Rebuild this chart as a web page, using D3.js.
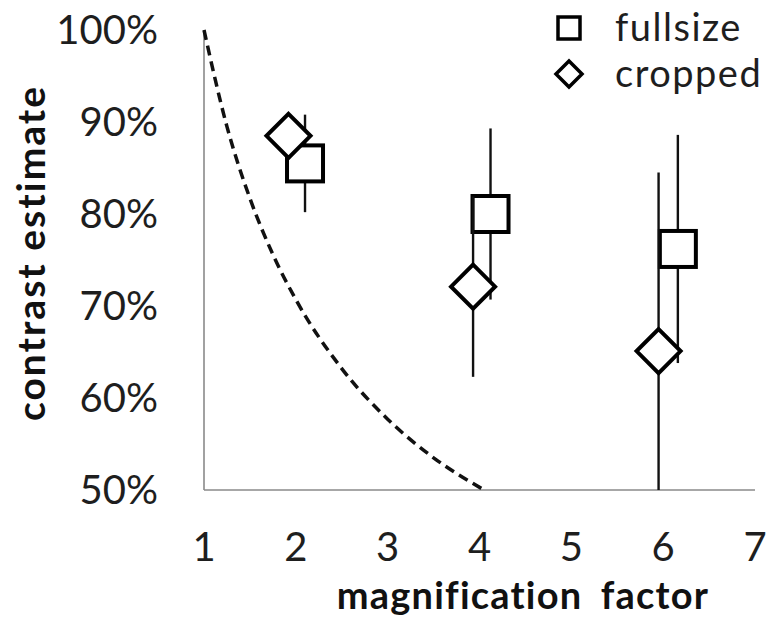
<!DOCTYPE html>
<html>
<head>
<meta charset="utf-8">
<script src="https://cdn.jsdelivr.net/npm/d3@7"></script>
<style>
  body { margin: 0; background: #fff; }
  svg { display: block; }
  .tick-label { font-family: Lato, sans-serif; font-size: 40px; fill: #1e1e1e; }
  .axis-title { font-family: Lato, sans-serif; font-size: 38px; font-weight: bold; fill: #111; }
  .legend-text { font-family: Lato, sans-serif; font-size: 38px; letter-spacing: 1.5px; fill: #1e1e1e; }
</style>
</head>
<body>
<script>
// values (contrast in %)
var xTicks = [1, 2, 3, 4, 5, 6, 7];
var yTicks = [50, 60, 70, 80, 90, 100];

var fullsizeX = [2.1, 4.12, 6.16];
var fullsizeY = [85.5, 80, 76.2];
var fullsizeErr = [5.3, 9.3, 12.4];

var croppedX = [1.92, 3.93, 5.95];
var croppedY = [88.5, 72.1, 65.1];
var croppedErr = [2, 9.8, 19.4];

// dashed reference curve
var curveX = [1, 1.25, 1.5, 1.75, 2, 2.5, 3, 3.5, 4.05];
var curveY = [100, 89.5, 81.7, 75.6, 70.7, 63.2, 57.7, 53.5, 50];

var seriesNames = ["fullsize", "cropped"];

var width = 771, height = 618;

var svg = d3.select("body").append("svg")
    .attr("width", width)
    .attr("height", height);

var x = d3.scaleLinear().domain([1, 7]).range([204, 755]);
var y = d3.scaleLinear().domain([50, 100]).range([490, 30]);

// axis lines
svg.append("line")
    .attr("x1", x(1)).attr("x2", x(1))
    .attr("y1", y(100)).attr("y2", y(50))
    .style("stroke", "#8a8a8a").style("stroke-width", 1.6);
svg.append("line")
    .attr("x1", x(1)).attr("x2", x(7))
    .attr("y1", y(50)).attr("y2", y(50))
    .style("stroke", "#8a8a8a").style("stroke-width", 1.6);

// tick labels
svg.selectAll("yLabel")
    .data(yTicks)
    .enter()
    .append("text")
    .attr("class", "tick-label")
    .attr("x", 158)
    .attr("y", function(d) { return y(d); })
    .attr("dy", "0.36em")
    .attr("text-anchor", "end")
    .text(function(d) { return d + "%"; });

svg.selectAll("xLabel")
    .data(xTicks)
    .enter()
    .append("text")
    .attr("class", "tick-label")
    .attr("x", function(d) { return x(d); })
    .attr("y", 547)
    .attr("dy", "0.36em")
    .attr("text-anchor", "middle")
    .text(function(d) { return d; });

// axis titles
svg.append("text")
    .attr("class", "axis-title")
    .attr("transform", "translate(45,253) rotate(-90)")
    .attr("text-anchor", "middle")
    .style("font-size", "39px")
    .style("letter-spacing", "2px")
    .text("contrast estimate");

svg.append("text")
    .attr("class", "axis-title")
    .attr("x", 523)
    .attr("y", 609)
    .attr("text-anchor", "middle")
    .style("letter-spacing", "1.2px")
    .style("word-spacing", "8px")
    .text("magnification factor");

// dashed curve
var line = d3.line()
    .x(function(d) { return x(d[0]); })
    .y(function(d) { return y(d[1]); })
    .curve(d3.curveMonotoneX);

svg.append("path")
    .datum(d3.zip(curveX, curveY))
    .attr("d", line)
    .style("fill", "none")
    .style("stroke", "#111")
    .style("stroke-width", 3.5)
    .style("stroke-dasharray", "10,6");

function errorBars(xs, ys, errs) {
    svg.selectAll(null)
        .data(d3.range(xs.length))
        .enter()
        .append("line")
        .attr("x1", function(i) { return x(xs[i]); })
        .attr("x2", function(i) { return x(xs[i]); })
        .attr("y1", function(i) { return y(Math.min(100, ys[i] + errs[i])); })
        .attr("y2", function(i) { return y(Math.max(50, ys[i] - errs[i])); })
        .style("stroke", "#111")
        .style("stroke-width", 2.4);
}

var sq = 36, dia = 22;
var diamondPath = function(cx, cy, r) {
    return "M" + cx + "," + (cy - r) + "L" + (cx + r) + "," + cy +
           "L" + cx + "," + (cy + r) + "L" + (cx - r) + "," + cy + "Z";
};

// fullsize
errorBars(fullsizeX, fullsizeY, fullsizeErr);
svg.selectAll("fullRect")
    .data(d3.range(fullsizeX.length))
    .enter()
    .append("rect")
    .attr("x", function(i) { return x(fullsizeX[i]) - sq / 2; })
    .attr("y", function(i) { return y(fullsizeY[i]) - sq / 2; })
    .attr("width", sq)
    .attr("height", sq)
    .style("fill", "#fff")
    .style("stroke", "#000")
    .style("stroke-width", 4);

// cropped
errorBars(croppedX, croppedY, croppedErr);
svg.selectAll("cropDiamond")
    .data(d3.range(croppedX.length))
    .enter()
    .append("path")
    .attr("d", function(i) { return diamondPath(x(croppedX[i]), y(croppedY[i]), dia); })
    .style("fill", "#fff")
    .style("stroke", "#000")
    .style("stroke-width", 4);

// legend
var legend = svg.selectAll("legendItem")
    .data(seriesNames)
    .enter()
    .append("g")
    .attr("transform", function(d, i) { return "translate(569," + (28 + 46 * i) + ")"; });

legend.append("path")
    .attr("d", function(d) {
        return d == "fullsize" ? "M-11,-11H11V11H-11Z" : diamondPath(0, 0, 13);
    })
    .style("fill", "#fff")
    .style("stroke", "#000")
    .style("stroke-width", 3.5);

legend.append("text")
    .attr("class", "legend-text")
    .attr("x", 46)
    .attr("dy", "0.33em")
    .text(function(d) { return d; });
</script>
</body>
</html>
